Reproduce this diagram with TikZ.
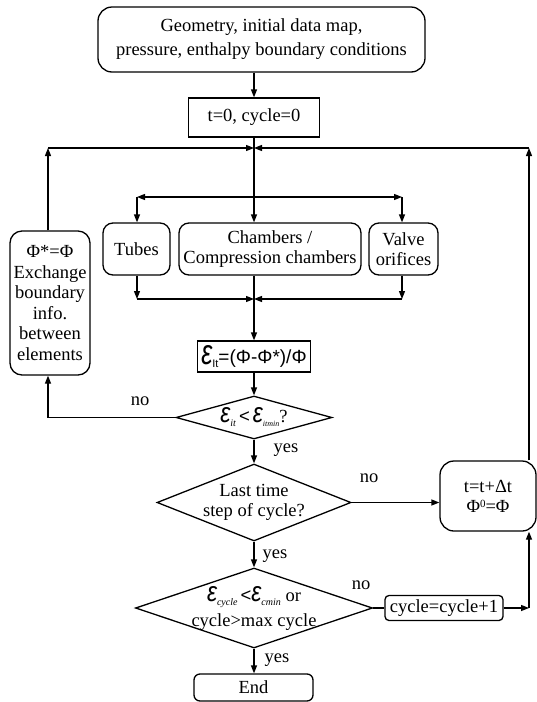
\documentclass[tikz,border=0pt]{standalone}
\usepackage{graphicx}
\usepackage{fontspec}
\setmainfont{Liberation Serif}
\newfontfamily\sansf{Liberation Sans}
\usetikzlibrary{shapes.geometric,arrows.meta}
\newcommand{\EpsBig}{\raisebox{-1pt}{\resizebox{11pt}{19pt}{\sansf\itshape ε}}}
\newcommand{\EpsSm}{\resizebox{10pt}{15pt}{\sansf\itshape ε}}
\newcommand{\subit}[1]{\raisebox{-4pt}{\fontsize{10}{10}\selectfont\itshape #1}}
\newcommand{\subup}[1]{\raisebox{-4pt}{\fontsize{11}{11}\selectfont\sansf #1}}
\newcommand{\supz}{\raisebox{5pt}{\fontsize{11}{11}\selectfont 0}}
\begin{document}
\begin{tikzpicture}[x=1pt,y=-1pt,
  font=\fontsize{18.5}{20.5}\selectfont,
  line width=1.3pt,
  >={Triangle[length=8pt,width=6pt]},
  rbox/.style={draw, rounded corners=#1, align=center, inner sep=0pt},
  rbox/.default=10pt,
  sbox/.style={draw, align=center, inner sep=0pt},
  dia/.style={draw, diamond, inner sep=0pt},
  lbl/.style={inner sep=0pt}]
\useasboundingbox (0,0) rectangle (537,702);

% nodes
\node[rbox=14pt, minimum width=327pt, minimum height=65pt,
      font=\fontsize{18.5}{24}\selectfont] (top) at (261.5,39.5)
  {Geometry, initial data map,\\pressure, enthalpy boundary conditions};
\node[sbox, minimum width=131pt, minimum height=39pt] (t0) at (254,117.5) {t=0, cycle=0};
\node[rbox, minimum width=67pt, minimum height=52pt] (tubes) at (136.5,249) {Tubes};
\node[rbox, minimum width=182pt, minimum height=52pt] (chambers) at (270,249) {Chambers /\\Compression chambers};
\node[rbox, minimum width=69pt, minimum height=52pt] (valve) at (403.5,249) {Valve\\orifices};
\node[rbox=12pt, minimum width=80pt, minimum height=144pt] (lbox) at (50,303)
  {Φ*=Φ\\Exchange\\boundary\\info.\\between\\elements};
\node[sbox, minimum width=113pt, minimum height=31pt] (eps) at (254,356.5) {};
\node[lbl] (epst) at (eps.center)
  {\EpsBig\subup{It}{\sansf\fontsize{19}{19}\selectfont =(Φ-Φ*)/Φ}};
\node[dia, minimum width=156pt, minimum height=43pt] (d1) at (254,417.5) {};
\node[lbl] (d1t) at (d1.center) {\EpsSm\subit{it}\,{\sansf<}\,\EpsSm\subit{\fontsize{8}{8}\selectfont itmin}?};
\node[dia, minimum width=194pt, minimum height=77pt] (d2) at (254,502.5) {};
\node[lbl, align=center] (d2t) at (d2.center) {Last time\\step of cycle?};
\node[dia, minimum width=237pt, minimum height=80pt] (d3) at (254,608) {};
\node[lbl, align=center, font=\fontsize{18.5}{25}\selectfont] (d3t) at (d3.center)
  {\EpsSm\subit{cycle}\,{\sansf<}\EpsSm\subit{cmin} or\\cycle>max cycle};
\node[rbox=14pt, minimum width=96pt, minimum height=70pt, font=\fontsize{18.5}{20}\selectfont] (rbox) at (488,496)
  {t=t+Δt\\Φ\supz=Φ};
\node[rbox=4pt, minimum width=118pt, minimum height=25pt] (cyc) at (444,608) {cycle=cycle+1};
\node[rbox=6pt, minimum width=119pt, minimum height=27pt] (endn) at (253.5,687.5) {End};

% labels
\node[lbl] (no1) at (140,401) {no};
\node[lbl] (yes1) at (286,450) {yes};
\node[lbl] (no2) at (369,478) {no};
\node[lbl] (yes2) at (275,556) {yes};
\node[lbl] (no3) at (361,585) {no};
\node[lbl] (yes3) at (277,660) {yes};

% junction coordinates
\coordinate (jt) at (254,148);
\coordinate (jl) at (48,148);
\coordinate (jr) at (529,148);
\coordinate (dl) at (137,197);
\coordinate (dr) at (402,197);
\coordinate (cl) at (137,299);
\coordinate (cr) at (402,299);
\coordinate (nl) at (48,417.5);
\coordinate (cc) at (529,608);

% connectors
\draw[->] (top.south -| jt) -- (t0.north -| jt);
\draw[->] (t0.south) -- (chambers.north -| t0.south);
\draw[->] (t0.south |- dl) -- (dl);
\draw[->] (dl) -- (tubes.north -| dl);
\draw[->] (t0.south |- dr) -- (dr);
\draw[->] (dr) -- (valve.north -| dr);
\draw[->] (lbox.north -| jl) -- (jl);
\draw[->] (jl) -- (jt);
\draw[->] (rbox.north -| jr) -- (jr);
\draw[->] (jr) -- (jt);
\draw[->] (tubes.south -| cl) -- (cl);
\draw[->] (cl) -- (t0.south |- cl);
\draw[->] (valve.south -| cr) -- (cr);
\draw[->] (cr) -- (t0.south |- cr);
\draw[->] (chambers.south -| t0.south) -- (eps.north);
\draw[->] (eps.south) -- (d1.north);
\draw (d1.west) -- (nl);
\draw[->] (nl) -- (lbox.south -| nl);
\draw[->] (d1.south) -- (d2.north);
\draw[->] (d2.east) -- (rbox.west |- d2.east);
\draw[->] (d2.south) -- (d3.north);
\draw (d3.east) -- (cyc.west);
\draw[->] (cyc.east) -- (cc);
\draw[->] (cc) -- (rbox.south -| cc);
\draw[->] (d3.south) -- (endn.north -| d3.south);
\end{tikzpicture}
\end{document}
